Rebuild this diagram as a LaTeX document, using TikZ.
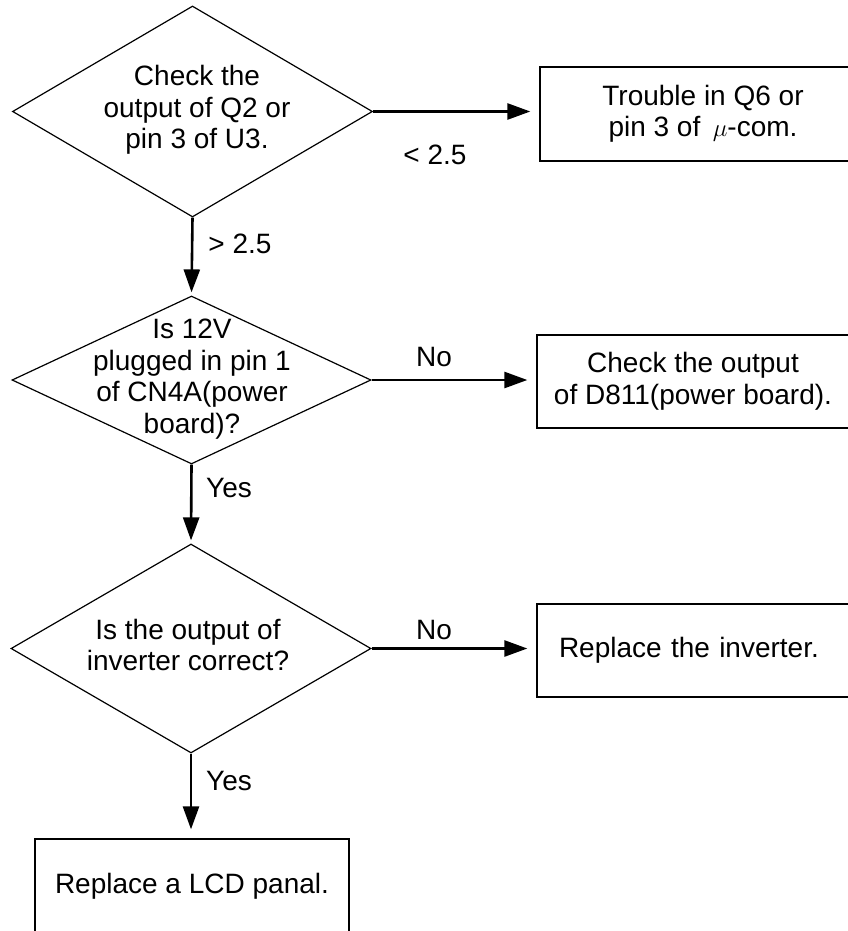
\documentclass[tikz,border=0pt]{standalone}
\usepackage{fontspec}
\setmainfont{Liberation Sans}
\usetikzlibrary{shapes.geometric,arrows.meta}
\begin{document}
\begin{tikzpicture}[x=1pt,y=-1pt,
  every node/.style={font=\fontsize{28}{31.5}\selectfont, inner sep=0pt},
  dia/.style={diamond, draw, line width=1.2pt, inner sep=0pt},
  box/.style={rectangle, draw, line width=1.3pt, align=center},
  txt/.style={align=center},
  arr/.style={line width=2.6pt, -{Triangle[length=23pt,width=16pt]}}
]
\useasboundingbox (0,0) rectangle (848,931);
\clip (0,0) rectangle (848,931);

% decisions
\node[dia, minimum width=360pt, minimum height=211pt] (d1) at (192.5,111.5) {};
\node[txt] (t1) at (197,110) {Check the\\output of Q2 or\\pin 3 of U3.};

\node[dia, minimum width=359pt, minimum height=168pt] (d2) at (191.5,380) {};
\node[txt] (t2) at (192,379) {Is 12V\\plugged in pin 1\\of CN4A(power\\board)?};

\node[dia, minimum width=360pt, minimum height=209pt] (d3) at (191,648.5) {};
\node[txt] (t3) at (188,645) {Is the output of\\inverter correct?};

% result boxes
\node[box, minimum width=326pt, minimum height=94pt] (b1) at (703,114)
  {Trouble in Q6 or\\pin 3 of \,$\mu$-com.};
\node[box, minimum width=312pt, minimum height=93pt] (b2) at (693,381.5)
  {Check the output\\of D811(power board).};
\node[box, minimum width=318pt, minimum height=93pt, inner xsep=22pt,
      text width=274pt, align=left] (b3) at (696,650.5) {Replace the inverter.};
\node[box, minimum width=314pt, minimum height=94pt] (b4) at (192,886)
  {Replace a LCD panal.};

% connectors
\draw[arr, shorten >=9pt] (d1.east) -- (d1.east -| b1.west);
\draw[arr, shorten >=3pt] (d1.south) -- (d2.north);
\draw[arr, shorten >=9pt] (d2.east) -- (d2.east -| b2.west);
\draw[arr, shorten >=3pt] (d2.south) -- (d3.north);
\draw[arr, shorten >=9pt] (d3.east) -- (d3.east -| b3.west);
\draw[arr, shorten >=9pt] (d3.south) -- (d3.south |- b4.north);

% labels
\node (l1) at (435,155) {< 2.5};
\node (l2) at (434,357.5) {No};
\node (l3) at (434,629.5) {No};
\node (l4) at (240,244) {> 2.5};
\node (l5) at (229,487.5) {Yes};
\node (l6) at (229,780.5) {Yes};
\end{tikzpicture}
\end{document}
